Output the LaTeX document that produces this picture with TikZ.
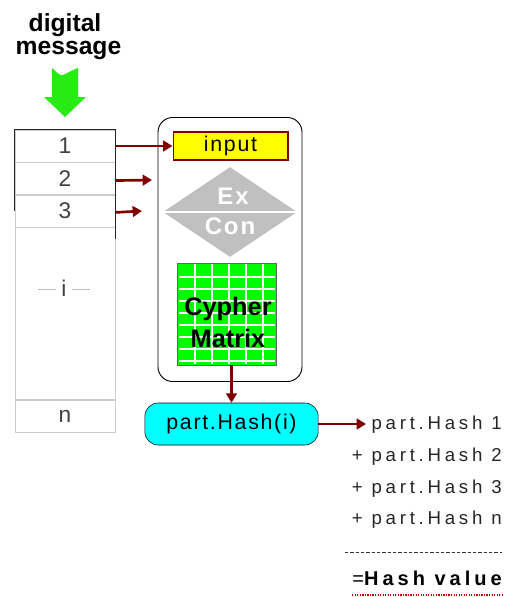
\documentclass[tikz,border=0pt]{standalone}
\usepackage{fontspec}
\setmainfont{Liberation Sans}
\newfontfamily\tightfont{Liberation Sans}
\newfontfamily\midfont[LetterSpace=8]{Liberation Sans}
\newfontfamily\widefont[LetterSpace=20]{Liberation Sans}
\usetikzlibrary{shapes.geometric, arrows.meta, positioning}
\definecolor{hashred}{RGB}{128,0,0}
\definecolor{matrixgreen}{RGB}{0,250,0}
\definecolor{arrowgreen}{RGB}{40,235,20}
\definecolor{exgray}{RGB}{192,192,192}
\definecolor{inputyellow}{RGB}{255,255,0}
\definecolor{hashcyan}{RGB}{0,255,255}

\begin{document}
\begin{tikzpicture}[x=0.75pt, y=-0.75pt,
  cell/.style={draw=black!20, minimum width=75pt, minimum height=24pt, inner sep=0pt, text=black!75, font=\tightfont\fontsize{17}{19}\selectfont},
  feeds/.style={every edge/.style={draw=hashred, line width=2pt, -{Triangle[length=7pt,width=8pt]}}},
  sumline/.style={anchor=east, inner sep=0pt, text=black!85, font=\widefont\fontsize{14}{16}\selectfont},
  titleline/.style={anchor=base, inner sep=0pt, font=\tightfont\bfseries\fontsize{18.5}{21}\selectfont},
  gridline/.style={draw=white, line width=1.2pt}]

    \useasboundingbox (0,0) rectangle (505,597);

    % message and the green arrow
    \node[titleline] (digital) at (65,31) {digital};
    \node[titleline] (message) at (68.5,54) {message};
    \fill[arrowgreen] (52,68) .. controls (56,71) and (59,76) .. (63,75) .. controls (68,73) and (72,70) .. (78,68) -- (78,97) -- (86,97) -- (65,117) -- (44,97) -- (52,97) -- cycle;

    % the blocks of the message
    \node[cell] (row1) at (65,146) {1};
    \node[cell, below=0pt of row1] (row2) {2};
    \node[cell, below=0pt of row2] (row3) {3};
    \node[cell, below=0pt of row3, minimum height=129pt] (rowi) {};
    \node[cell, below=0pt of rowi] (rown) {n};
    \node[text=black!75, font=\tightfont\fontsize{17}{19}\selectfont] (idots) at (64,288) {\textcolor{black!25}{\rule[0.3em]{13.5pt}{0.6pt}}\hspace{4pt}i\hspace{4pt}\textcolor{black!25}{\rule[0.3em]{13.5pt}{0.6pt}}};
    \draw[black!85] (row3.west) -- (row1.north west) -- (row1.north east) -- ([yshift=-9pt]row3.south east);

    % the hash engine
    \node[draw, line width=0.7pt, rounded corners=11pt, minimum width=108pt, minimum height=198pt] (engine) at (230,249.5) {};
    \node[draw=hashred, fill=inputyellow, line width=1pt, minimum width=86pt, minimum height=21pt, inner sep=0pt, font=\midfont\fontsize{16}{18}\selectfont] (input) at (230.5,146) {input};
    \node[diamond, fill=exgray, minimum width=100.5pt, minimum height=67.5pt, inner sep=0pt] (excon) at (230,212) {};
    \draw[draw=white, line width=1.5pt] (excon.west) -- (excon.east);
    \node[text=white, font=\midfont\bfseries\fontsize{18}{20}\selectfont] (ex) at (233,196) {Ex};
    \node[text=white, font=\midfont\bfseries\fontsize{18}{20}\selectfont] (con) at (230,226) {Con};
    \node[draw=black!60, fill=matrixgreen, minimum width=74pt, minimum height=76.5pt, inner sep=0pt] (grid) at (227,314) {};
    \foreach \gx in {195,212,...,263}
      \draw[gridline] (\gx,264) -- (\gx,364);
    \foreach \gy in {277,289,...,361}
      \draw[gridline] (179,\gy) -- (275,\gy);
    \node[align=center, font=\tightfont\bfseries\fontsize{19}{24}\selectfont] (cypher) at (228,322) {Cypher\\Matrix};

    % the part hash and the sum
    \node[draw, fill=hashcyan, rounded corners=10pt, minimum width=130pt, minimum height=31.5pt, inner sep=0pt, font=\midfont\fontsize{16}{18}\selectfont] (hash) at (231.5,424) {part.Hash(i)};
    \node[sumline] (sum1) at (502,425) {part.Hash 1};
    \node[sumline] (sum2) at (502,457) {+ part.Hash 2};
    \node[sumline] (sum3) at (502,489) {+ part.Hash 3};
    \node[sumline] (sum4) at (502,520) {+ part.Hash n};
    \coordinate (ruleL) at (345,552);
    \coordinate (ruleR) at (502,552);
    \draw[black!80, dash pattern=on 2.5pt off 1.5pt] (ruleL) -- (ruleR);
    \node[anchor=east, inner sep=0pt, font=\widefont\bfseries\fontsize{15}{17}\selectfont] (total) at (502,578) {{\mdseries=}Hash value};
    \draw[red!80!black, densely dotted, line width=0.9pt] ([yshift=-7pt]total.south west) -- ([yshift=-7pt]total.south east);

    % the arrows
    \coordinate (in2) at (152,180);
    \coordinate (in3) at (142,211);
    \path[feeds]
    (row1) edge (input) % first block into the input
    ([yshift=-1.5pt]row2.east) edge (in2)
    ([yshift=-1pt]row3.east) edge (in3)
    (grid.south -| hash) edge (hash) % matrix down to the part hash
    (hash.east) edge ([xshift=-4pt]sum1.west |- hash.east);
\end{tikzpicture}
\end{document}
